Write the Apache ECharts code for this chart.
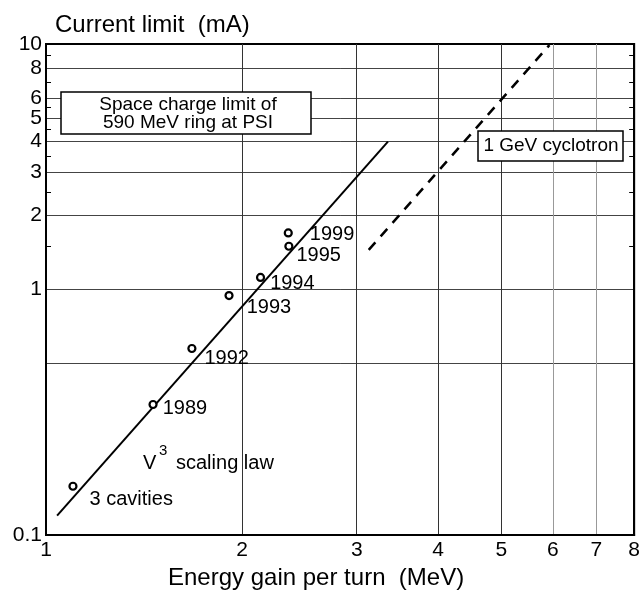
<!DOCTYPE html>
<html>
<head>
<meta charset="utf-8">
<script src="https://cdn.jsdelivr.net/npm/echarts@6/dist/echarts.min.js"></script>
<style>
  html, body { margin: 0; padding: 0; background: #fff; }
  #chart { width: 643px; height: 595px; }
</style>
</head>
<body>
<div id="chart"></div>
<script>
// measured points (energy gain per turn in MeV, current limit in mA)
const energy = [1.10, 1.46, 1.675, 1.91, 2.135, 2.36, 2.355];
const current = [0.158, 0.34, 0.575, 0.945, 1.12, 1.50, 1.70];
const pointNames = ['3 cavities', '1989', '1992', '1993', '1994', '1995', '1999'];

// V^3 scaling law line (590 MeV ring)
const fitEnergy = [1.04, 3.35];
const fitCurrent = [0.12, 4.0];

// 1 GeV cyclotron line (dashed)
const gevEnergy = [3.13, 5.93];
const gevCurrent = [1.45, 9.9];

// axes
const xTickLabels = [1, 2, 3, 4, 5, 6, 7, 8];
const yTickLabels = [0.1, 1, 2, 3, 4, 5, 6, 8, 10];
const xGridDark = [2, 3, 4, 5];
const xGridLight = [6, 7];
const yGrid = [0.5, 1, 2, 3, 4, 5, 6, 8];
const yMinorTicks = [1.5, 2.5, 3.5, 4.5, 5.5, 7, 9];

// label offsets (px) from each marker to its label
const labelOffsets = [[17, 13], [10, 4], [13, 10], [18, 12], [10, 6], [8, 9], [22, 2]];

const FONT = '"Liberation Sans", Arial, sans-serif';

var chart = echarts.init(document.getElementById('chart'));

const pointData = energy.map(function (x, i) {
  return {
    name: pointNames[i],
    value: [x, current[i]],
    label: { offset: [labelOffsets[i][0] - 5, labelOffsets[i][1]] }
  };
});

const option = {
  backgroundColor: '#fff',
  animation: false,
  grid: {
    left: 46,
    right: 7,
    top: 44,
    bottom: 59,
    show: true,
    borderColor: '#000',
    borderWidth: 2,
    backgroundColor: 'transparent'
  },
  xAxis: [
    {
      type: 'log',
      logBase: 10,
      min: 1,
      max: 8,
      position: 'bottom',
      axisLine: { show: true, lineStyle: { color: '#000', width: 2 } },
      axisTick: { show: false, customValues: xGridDark },
      axisLabel: {
        customValues: xTickLabels,
        color: '#000',
        fontSize: 21,
        fontFamily: FONT,
        margin: 5,
        formatter: function (v) { return String(Math.round(v)); }
      },
      splitLine: { show: true, lineStyle: { color: '#333', width: 1 } },
      name: 'Energy gain per turn  (MeV)',
      nameLocation: 'middle',
      nameGap: 31,
      nameTextStyle: { color: '#000', fontSize: 24, fontFamily: FONT, padding: [0, 48, 0, 0] }
    },
    {
      type: 'log',
      logBase: 10,
      min: 1,
      max: 8,
      position: 'bottom',
      axisLine: { show: false },
      axisTick: { show: false, customValues: xGridLight },
      axisLabel: { show: false },
      splitLine: { show: true, lineStyle: { color: '#999', width: 1 } }
    }
  ],
  yAxis: [
    {
      type: 'log',
      logBase: 10,
      min: 0.1,
      max: 10,
      position: 'left',
      axisLine: { show: true, lineStyle: { color: '#000', width: 2 } },
      axisTick: { show: true, inside: true, length: 5, customValues: yMinorTicks, lineStyle: { color: '#000', width: 1 } },
      axisLabel: {
        customValues: yTickLabels,
        color: '#000',
        fontSize: 21,
        fontFamily: FONT,
        margin: 4,
        formatter: function (v) { return String(+(+v).toPrecision(3)); }
      },
      splitLine: { show: false },
      name: 'Current limit  (mA)',
      nameLocation: 'end',
      nameGap: 7,
      nameTextStyle: { color: '#000', fontSize: 24, fontFamily: FONT, align: 'left', verticalAlign: 'bottom', padding: [0, 0, 0, 9] }
    },
    {
      type: 'log',
      logBase: 10,
      min: 0.1,
      max: 10,
      position: 'right',
      axisLine: { show: true, lineStyle: { color: '#000', width: 2 } },
      axisTick: { show: true, inside: true, length: 5, customValues: yMinorTicks, lineStyle: { color: '#000', width: 1 } },
      axisLabel: { show: false },
      splitLine: { show: false }
    },
    {
      type: 'log',
      logBase: 10,
      min: 0.1,
      max: 10,
      position: 'left',
      axisLine: { show: false },
      axisTick: { show: false, customValues: yGrid },
      axisLabel: { show: false },
      splitLine: { show: true, lineStyle: { color: '#444', width: 1 } }
    }
  ],
  graphic: [
    { type: 'rect', z: 100, shape: { x: 61, y: 92, width: 250, height: 42 }, style: { fill: '#fff', stroke: '#000', lineWidth: 1.5 } },
    { type: 'text', z: 101, x: 188, y: 114, style: { text: 'Space charge limit of\n590 MeV ring at PSI', align: 'center', verticalAlign: 'middle', font: '19px ' + FONT, lineHeight: 18, fill: '#000' } },
    { type: 'rect', z: 100, shape: { x: 478, y: 131, width: 145, height: 30 }, style: { fill: '#fff', stroke: '#000', lineWidth: 1.5 } },
    { type: 'text', z: 101, x: 551, y: 146, style: { text: '1 GeV cyclotron', align: 'center', verticalAlign: 'middle', font: '19px ' + FONT, fill: '#000' } },
    { type: 'text', z: 101, x: 143, y: 463, style: { text: 'V', align: 'left', verticalAlign: 'middle', font: '20px ' + FONT, fill: '#000' } },
    { type: 'text', z: 101, x: 159, y: 451, style: { text: '3', align: 'left', verticalAlign: 'middle', font: '15px ' + FONT, fill: '#000' } },
    { type: 'text', z: 101, x: 176, y: 463, style: { text: 'scaling law', align: 'left', verticalAlign: 'middle', font: '20px ' + FONT, fill: '#000' } }
  ],
  series: [
    {
      name: 'V3 scaling',
      type: 'line',
      xAxisIndex: 0,
      yAxisIndex: 0,
      showSymbol: false,
      silent: true,
      lineStyle: { color: '#000', width: 2 },
      data: fitEnergy.map(function (x, i) { return [x, fitCurrent[i]]; }),
      z: 3
    },
    {
      name: '1 GeV cyclotron',
      type: 'line',
      xAxisIndex: 0,
      yAxisIndex: 0,
      showSymbol: false,
      silent: true,
      lineStyle: { color: '#000', width: 2.5, type: [10, 8] },
      data: gevEnergy.map(function (x, i) { return [x, gevCurrent[i]]; }),
      z: 3
    },
    {
      name: 'measured',
      type: 'scatter',
      xAxisIndex: 0,
      yAxisIndex: 0,
      symbol: 'circle',
      symbolSize: 7,
      itemStyle: { color: '#fff', borderColor: '#000', borderWidth: 2.2, opacity: 1 },
      label: {
        show: true,
        position: 'right',
        distance: 0,
        formatter: '{b}',
        color: '#000',
        fontSize: 20,
        fontFamily: FONT
      },
      data: pointData,
      z: 4
    }
  ]
};
chart.setOption(option);
</script>
</body>
</html>
